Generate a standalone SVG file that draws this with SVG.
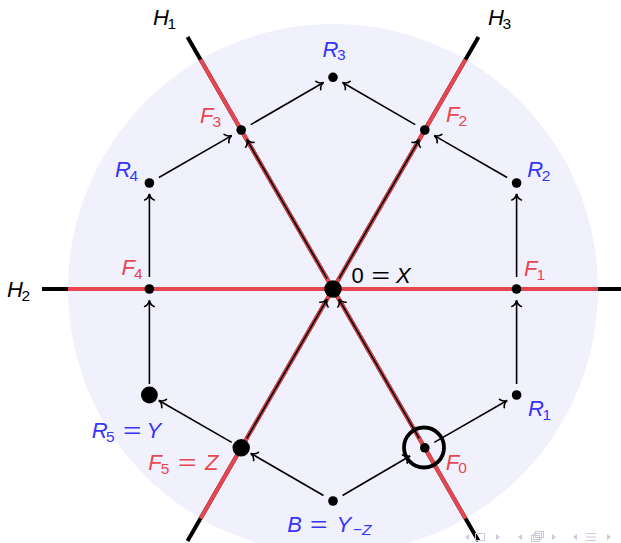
<svg xmlns="http://www.w3.org/2000/svg" width="621" height="543" viewBox="0 0 621 543">
<defs>
<marker id="to" markerUnits="userSpaceOnUse" viewBox="-8 -7 10 14" markerWidth="10" markerHeight="14" refX="0" refY="0" orient="auto" overflow="visible">
<path d="M-6,-4.8 C-5,-2.2 -2.4,-0.6 0,0 C-2.4,0.6 -5,2.2 -6,4.8" fill="none" stroke="#000" stroke-width="1.6" stroke-linecap="round"/>
</marker>
</defs>
<style>
.t{font-family:"Liberation Sans",Arial,sans-serif;font-size:22px}
.i{font-style:italic}
.s{font-size:15.5px;font-style:normal}
.red{fill:#e8464f}
.blue{fill:#3535fa}
.blk{fill:#000}
.hb{stroke:#000;stroke-width:4;fill:none}
.hr{stroke:#e8464f;stroke-width:4;fill:none}
.e{stroke:#000;stroke-width:1.6;fill:none;marker-end:url(#to)}
.nav{fill:#c9c9e2;stroke:none}
.navs{fill:none;stroke:#c9c9e2;stroke-width:1}
</style>
<rect width="621" height="543" fill="#fff"/>
<circle cx="333" cy="289" r="265" fill="#f1f1fd"/>

<g id="hyperplanes">
<line class="hb" x1="187.5" y1="37" x2="478.5" y2="541"/>
<line class="hr" x1="200.5" y1="59.5" x2="465.5" y2="518.5"/>
<line class="hb" x1="478.5" y1="37" x2="187.5" y2="541"/>
<line class="hr" x1="465.5" y1="59.5" x2="200.5" y2="518.5"/>
<line class="hb" x1="42" y1="289" x2="624" y2="289"/>
<line class="hr" x1="68" y1="289" x2="598" y2="289"/>
</g>

<g id="connectors">
<line class="e" x1="323.5" y1="495.5" x2="250.8" y2="453.4"/>
<line class="e" x1="342.5" y1="495.5" x2="410" y2="456"/>
<line class="e" x1="231.7" y1="442.4" x2="158.9" y2="400.5"/>
<line class="e" x1="434.3" y1="442.4" x2="507.1" y2="400.5"/>
<line class="e" x1="149.4" y1="384" x2="149.4" y2="300.5"/>
<line class="e" x1="516.6" y1="384" x2="516.6" y2="300.5"/>
<line class="e" x1="149.4" y1="277" x2="149.4" y2="194"/>
<line class="e" x1="516.6" y1="277" x2="516.6" y2="194"/>
<line class="e" x1="158.9" y1="177.5" x2="231.7" y2="135.6"/>
<line class="e" x1="507.1" y1="177.5" x2="434.3" y2="135.6"/>
<line class="e" x1="250.8" y1="124.6" x2="323.5" y2="82.5"/>
<line class="e" x1="415.2" y1="124.6" x2="342.5" y2="82.5"/>
<line class="e" x1="246.8" y1="438.4" x2="327" y2="299.4"/>
<line class="e" x1="419.2" y1="438.4" x2="339" y2="299.4"/>
<line class="e" x1="327" y1="278.6" x2="246.8" y2="139.6"/>
<line class="e" x1="339" y1="278.6" x2="419.2" y2="139.6"/>
</g>

<g id="n-0"><circle cx="333" cy="289" r="8.7"/>
<text class="t blk" x="351.5" y="283">0</text><text class="t blk" x="371.5" y="283" textLength="18.5" lengthAdjust="spacingAndGlyphs">=</text><text class="t blk i" x="396" y="283">X</text></g>
<g id="n-F1"><circle cx="516.5" cy="289" r="4.8"/><text class="t red" x="524" y="276"><tspan class="i">F</tspan><tspan class="s" dy="3.5" dx="-1">1</tspan></text></g>
<g id="n-F2"><circle cx="424.8" cy="130" r="4.8"/><text class="t red" x="446" y="122"><tspan class="i">F</tspan><tspan class="s" dy="3.5" dx="-1">2</tspan></text></g>
<g id="n-F3"><circle cx="241.2" cy="130" r="4.8"/><text class="t red" x="200" y="123"><tspan class="i">F</tspan><tspan class="s" dy="3.5" dx="-1">3</tspan></text></g>
<g id="n-F4"><circle cx="149.4" cy="289" r="4.8"/><text class="t red" x="121.5" y="275"><tspan class="i">F</tspan><tspan class="s" dy="3.5" dx="-1">4</tspan></text></g>
<g id="n-F5"><circle cx="241.2" cy="447.8" r="8.7"/><text class="t red" x="148.3" y="470"><tspan class="i">F</tspan><tspan class="s" dy="3.5" dx="-1">5</tspan></text><text class="t red" x="178" y="470" textLength="18.5" lengthAdjust="spacingAndGlyphs">=</text><text class="t red i" x="205" y="470">Z</text></g>
<g id="n-F0"><circle cx="424.8" cy="447.8" r="4.8"/><circle cx="424" cy="447.5" r="20" fill="none" stroke="#000" stroke-width="3.8"/><text class="t red" x="445.7" y="469.5"><tspan class="i">F</tspan><tspan class="s" dy="3.5" dx="-1">0</tspan></text></g>
<g id="n-R1"><circle cx="516.6" cy="395" r="4.8"/><text class="t blue" x="528" y="416"><tspan class="i">R</tspan><tspan class="s" dy="3.5" dx="-1.5">1</tspan></text></g>
<g id="n-R2"><circle cx="516.6" cy="183" r="4.8"/><text class="t blue" x="527.3" y="177"><tspan class="i">R</tspan><tspan class="s" dy="3.5" dx="-1.5">2</tspan></text></g>
<g id="n-R3"><circle cx="333" cy="77.3" r="4.8"/><text class="t blue" x="322.5" y="56.7"><tspan class="i">R</tspan><tspan class="s" dy="3.5" dx="-1.5">3</tspan></text></g>
<g id="n-R4"><circle cx="149.4" cy="183" r="4.8"/><text class="t blue" x="115" y="177"><tspan class="i">R</tspan><tspan class="s" dy="3.5" dx="-1.5">4</tspan></text></g>
<g id="n-R5"><circle cx="149.4" cy="395" r="8.4"/><text class="t blue" x="91.7" y="438.3"><tspan class="i">R</tspan><tspan class="s" dy="3.5" dx="-1.5">5</tspan></text><text class="t blue" x="123" y="438.3" textLength="18.5" lengthAdjust="spacingAndGlyphs">=</text><text class="t blue i" x="146.5" y="438.3">Y</text></g>
<g id="n-B"><circle cx="333" cy="501" r="4.8"/><text class="t blue i" x="287.3" y="532.3">B</text><text class="t blue" x="310" y="532.3" textLength="17.5" lengthAdjust="spacingAndGlyphs">=</text><text class="t blue i" x="336.5" y="532.3">Y</text><text class="t blue s" x="353" y="535">−<tspan font-style="italic">Z</tspan></text></g>

<g id="labels-H">
<text class="t blk" x="153" y="25"><tspan class="i">H</tspan><tspan class="s" dy="3.5" dx="-1.5">1</tspan></text>
<text class="t blk" x="7" y="297"><tspan class="i">H</tspan><tspan class="s" dy="3.5" dx="-1.5">2</tspan></text>
<text class="t blk" x="488" y="25"><tspan class="i">H</tspan><tspan class="s" dy="3.5" dx="-1.5">3</tspan></text>
</g>

<g id="nav">
<path class="nav" d="M465,537 l4,-3 v6 z"/>
<rect class="navs" x="475.5" y="533.5" width="9" height="7"/>
<path class="nav" d="M496,534 l4,3 l-4,3 z"/>
<path class="nav" d="M518,537 l4,-3 v6 z"/>
<rect class="navs" x="531.5" y="535.5" width="8" height="6"/>
<rect class="navs" x="533.5" y="533.5" width="8" height="6"/>
<rect class="navs" x="535.5" y="531.5" width="8" height="6"/>
<path class="nav" d="M552,534 l4,3 l-4,3 z"/>
<path class="nav" d="M573,537 l4,-3 v6 z"/>
<path class="navs" d="M586,533.5 h10 M586,537 h10 M586,540.5 h10"/>
<path class="nav" d="M607,534 l4,3 l-4,3 z"/>
</g>
</svg>
